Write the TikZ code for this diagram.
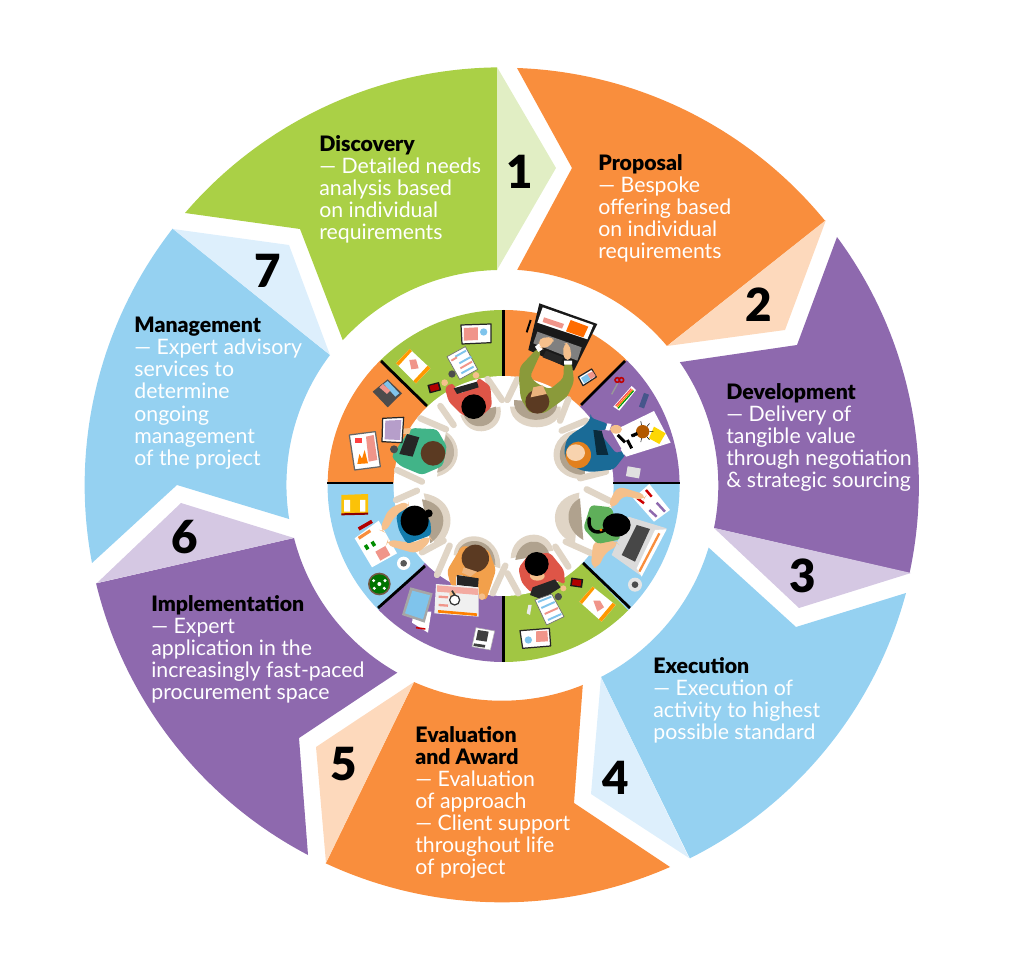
\documentclass[tikz,border=0pt]{standalone}
\usepackage{fontspec}
\setmainfont{Lato}[BoldFont=Lato Black]
\newfontfamily\numfont{Lato Black}
\usetikzlibrary{positioning}

\definecolor{orangemain}{HTML}{F98E3D}
\definecolor{orangelite}{HTML}{FDD9BC}
\definecolor{greenmain}{HTML}{AAD046}
\definecolor{greenlite}{HTML}{E1EEC4}
\definecolor{purplemain}{HTML}{8E69AE}
\definecolor{purplelite}{HTML}{D5C8E3}
\definecolor{bluemain}{HTML}{95D1F1}
\definecolor{bluelite}{HTML}{DDEFFC}
\definecolor{chairrim}{HTML}{E0D5C6}
\definecolor{chairseat}{HTML}{B0A28E}
\definecolor{skintone}{HTML}{F5C08C}
\definecolor{brownhair}{HTML}{5B3A22}
\definecolor{paperpink}{HTML}{F0958A}
\definecolor{paperblue}{HTML}{7FC4EC}
\definecolor{olivecoat}{HTML}{8A9A3A}
\definecolor{redcoat}{HTML}{DE5547}
\definecolor{greencoat}{HTML}{41B488}
\definecolor{tealcoat}{HTML}{127BAC}
\definecolor{orangecoat}{HTML}{F2A04B}
\definecolor{leafcoat}{HTML}{5FAF5A}
\definecolor{navycoat}{HTML}{1A6B97}

\tikzset{
	steptext/.style={anchor=north west,align=left,inner sep=0pt,text=white,
		font=\fontsize{12.1}{12.55}\selectfont},
	stepnum/.style={font=\numfont\fontsize{26}{26}\selectfont,text=black,inner sep=0pt},
	cropview/.style 2 args={shift={(#1,#2)},x=0.006667cm,y=-0.006667cm},
	armrest/.style={chairrim,line width=3.6pt,line cap=round},
	coat/.style={fill=#1,rounded corners=2pt},
	divider/.style={line width=1.6pt,black},
	frame/.style={fill=white,draw=black!85,line width=0.7pt,line join=round},
	stripe/.style={line width=1.1pt}
}
\newcommand{\heading}[1]{{\bfseries\color{black}#1}}

\begin{document}
\begin{tikzpicture}[x=0.02cm,y=-0.02cm]
	\useasboundingbox (0,0) rectangle (1017,955);
	% step segments
	\fill[greenmain] (185,213) arc[start angle=220.63,end angle=269.31,radius=417.5] -- (497,270) arc[start angle=268.67,end angle=222.36,radius=215.5] -- (300,229) -- cycle;
	\fill[greenlite] (497,67) -- (556,168) -- (497,270) -- cycle;
	\fill[orangemain] (517,68) arc[start angle=272.06,end angle=320.72,radius=417.5] -- (667,346) arc[start angle=319.89,end angle=273.99,radius=215.5] -- (572,168) -- cycle;
	\fill[orangelite] (826,220) -- (785,330) -- (667,346) -- cycle;
	\fill[purplemain] (837,237) arc[start angle=323.5,end angle=372.14,radius=417.5] -- (714,528) arc[start angle=371.47,end angle=325.2,radius=215.5] -- (797,345) -- cycle;
	\fill[purplelite] (911,573) -- (799,608) -- (714,528) -- cycle;
	\fill[bluemain] (906,593) arc[start angle=14.97,end angle=63.37,radius=417.5] -- (601,677) arc[start angle=62.73,end angle=16.75,radius=215.5] -- (796,627) -- cycle;
	\fill[bluelite] (689,858) -- (591,794) -- (601,677) -- cycle;
	\fill[orangemain] (670,867) arc[start angle=66.26,end angle=114.97,radius=417.5] -- (414,682) arc[start angle=114.07,end angle=67.95,radius=215.5] -- (574,803) -- cycle;
	\fill[orangelite] (326,863) -- (316,747) -- (414,682) -- cycle;
	\fill[purplemain] (308,855) arc[start angle=117.67,end angle=166.4,radius=417.5] -- (294,538) arc[start angle=165.7,end angle=119.32,radius=215.5] -- (299,738) -- cycle;
	\fill[purplelite] (97,583) -- (181,503) -- (294,538) -- cycle;
	\fill[bluemain] (92,563) arc[start angle=169.23,end angle=217.89,radius=417.5] -- (330,355) arc[start angle=217.08,end angle=170.89,radius=215.5] -- (177,485) -- cycle;
	\fill[bluelite] (173,229) -- (289,245) -- (330,355) -- cycle;
	% step labels
	\node[steptext] (discovery) at (319,135) {\heading{Discovery}\\— Detailed needs\\analysis based\\on individual\\requirements};
	\node[steptext] (proposal) at (598,154) {\heading{Proposal}\\— Bespoke\\offering based\\on individual\\requirements};
	\node[steptext] (development) at (726,383) {\heading{Development}\\— Delivery of\\tangible value\\through negotiation\\\& strategic sourcing};
	\node[steptext] (execution) at (653,657) {\heading{Execution}\\— Execution of\\activity to highest\\possible standard};
	\node[steptext] (evaluation) at (415,726) {\heading{Evaluation}\\\heading{and Award}\\— Evaluation\\of approach\\— Client support\\throughout life\\of project};
	\node[steptext] (implementation) at (151,595) {\heading{Implementation}\\— Expert\\application in the\\increasingly fast-paced\\procurement space};
	\node[steptext] (management) at (134,317) {\heading{Management}\\— Expert advisory\\services to\\determine\\ongoing\\management\\of the project};
	\node[stepnum] (num1) at (520,172) {1};
	\node[stepnum] (num2) at (759,305) {2};
	\node[stepnum] (num3) at (803,576) {3};
	\node[stepnum] (num4) at (616,778) {4};
	\node[stepnum] (num5) at (344,764) {5};
	\node[stepnum] (num6) at (185,537) {6};
	\node[stepnum] (num7) at (268,271) {7};
	% table top
	\begin{scope}
		\clip (503.6,486) circle [radius=176];
		\fill[orangemain] (503.6,483) -- (503.6,250) -- (740,247) -- cycle;
		\fill[purplemain] (503.6,483) -- (740,247) -- (740,483) -- cycle;
		\fill[bluemain] (503.6,483) -- (740,483) -- (740,725) -- cycle;
		\fill[greenmain!95!black] (503.6,483) -- (740,725) -- (503.6,725) -- cycle;
		\fill[purplemain] (503.6,483) -- (503.6,725) -- (265,725) -- cycle;
		\fill[bluemain] (503.6,483) -- (265,725) -- (265,483) -- cycle;
		\fill[orangemain] (503.6,483) -- (265,483) -- (265,247) -- cycle;
		\fill[greenmain!95!black] (503.6,483) -- (265,247) -- (503.6,250) -- cycle;
	\end{scope}
	\fill[white] (503.6,486) circle [radius=110];
	\draw[divider] (503.6,310) -- (503.6,376);
	\draw[divider] (503.6,596) -- (503.6,662);
	\draw[divider] (327,483) -- (393,483);
	\draw[divider] (613,483) -- (680,483);
	\draw[divider] (625,361) -- (581,405);
	\draw[divider] (381,361) -- (427,406);
	\draw[divider] (378,608) -- (425,566);
	\draw[divider] (630,608) -- (583,563);
	% upper right quarter
	\begin{scope}[cropview={500}{300}]
		\draw[black,line width=1.1pt] (92,60) -- (80,97);
		\filldraw[frame] (262,235) ++(-27,-4) -- ++(40,-24) -- ++(14,24) -- ++(-40,26) -- cycle;
		\fill[paperblue] (243,234) -- (262,222) -- (272,238) -- (253,250) -- cycle;
		\fill[paperpink] (262,222) -- (278,214) -- (287,228) -- (272,238) -- cycle;
		% laptop
		\fill[black!90] (118,10) -- (292,72) -- (222,212) -- (85,150) -- cycle;
		\fill[white] (128,22) -- (280,75) -- (262,118) -- (112,68) -- cycle;
		\fill[paperpink] (132,52) -- (192,72) -- (186,86) -- (128,66) -- cycle;
		\fill[orange!85!red] (212,60) -- (265,80) -- (250,112) -- (198,94) -- cycle;
		\fill[black!50] (112,95) -- (245,142) -- (232,182) -- (100,130) -- cycle;
		\fill[black!85] (138,152) -- (190,172) -- (180,192) -- (128,172) -- cycle;
		% man at the laptop
		\fill[chairrim] (30,320) .. controls (35,405) and (190,400) .. (182,320) -- cycle;
		\fill[chairseat] (42,300) .. controls (35,375) and (170,380) .. (172,310) -- cycle;
		\draw[armrest] (22,300) -- (52,238);
		\draw[armrest] (180,362) -- (205,298);
		\fill[coat=olivecoat] (112,145) -- (60,200) -- (57,240) -- (62,295) -- (88,338) -- (132,340) -- (172,312) -- (202,290) -- (222,245) -- (216,190) -- (192,190) -- (190,235) -- (150,268) -- (110,250) -- (90,230) -- (124,155) -- cycle;
		\fill[white] (105,140) -- (118,130) -- (128,148) -- (115,156) -- cycle (192,182) -- (216,182) -- (216,194) -- (192,194) -- cycle;
		\fill[skintone,rounded corners=3pt] (115,115) -- (162,110) -- (160,130) -- (130,148) -- (118,140) -- cycle;
		\fill[skintone,rounded corners=3pt] (190,130) -- (208,128) -- (216,180) -- (190,180) -- cycle;
		\fill[brownhair] (112,305) circle [radius=36];
		\fill[skintone!80!brown] (100,262) -- (128,256) -- (140,282) -- (92,292) -- cycle;
		% purple things
		\draw[red!75!black,line width=0.9pt] (352,240) circle [radius=7] (364,240) circle [radius=7];
		\draw[black!40,line width=0.8pt] (353,250) -- (335,283);
		\fill[white] (340,320) -- (395,258) -- (408,270) -- (358,332) -- cycle;
		\draw[red!70,line width=0.7pt] (347,318) -- (394,266);
		\draw[orange,line width=0.7pt] (351,321) -- (398,269);
		\draw[green!60!black,line width=0.7pt] (354,325) -- (401,272);
		\fill[tealcoat!70!purple,shift={(432,302)},rotate=70] (-22,-8) rectangle (22,8);
		\fill[white] (335,395) -- (462,333) -- (512,428) -- (378,470) -- cycle;
		\fill[yellow!75!orange] (462,380) -- (497,400) -- (478,432) -- (447,415) -- cycle;
		\draw[black,line width=1.7pt] (353,405) -- (375,427) (382,420) -- (395,445);
		\draw[black,line width=0.3pt] (428,395) ++(0:20) -- ++(0:12) (428,395) ++(50:20) -- ++(50:12) (428,395) ++(100:20) -- ++(100:12) (428,395) ++(-50:20) -- ++(-50:12) (428,395) ++(-100:20) -- ++(-100:12) (428,395) ++(150:20) -- ++(150:12);
		\fill[orange!70!black] (428,395) circle [radius=20];
		\draw[black,line width=1.7pt] (394,408) -- (412,400);
		\fill[black!12,shift={(400,517)},rotate=-10] (-20,-15) rectangle (20,15);
		% man in the blue jacket
		\fill[chairrim] (240,390) .. controls (140,390) and (125,535) .. (250,538) -- cycle;
		\fill[chairseat] (250,400) .. controls (160,405) and (150,525) .. (255,525) -- cycle;
		\draw[armrest] (185,392) -- (258,362);
		\draw[armrest] (240,535) -- (318,515);
		\fill[coat=navycoat] (272,353) -- (325,372) -- (316,392) -- (290,388) -- (350,462) -- (365,450) -- (378,462) -- (342,508) -- (285,515) .. controls (225,515) and (190,480) .. (195,440) .. controls (205,395) and (250,390) .. (272,353) -- cycle;
		\fill[black!60!navycoat] (280,390) -- (305,392) -- (325,465) -- (290,465) -- cycle;
		\fill[white] (322,370) -- (335,372) -- (328,392) -- (316,390) -- cycle (362,448) -- (378,440) -- (384,455) -- (372,465) -- cycle;
		\fill[skintone] (348,388) ellipse [x radius=18,y radius=13];
		\fill[orange!55!brown] (235,465) ellipse [x radius=38,y radius=40];
		\fill[skintone!70!white] (227,458) ellipse [x radius=28,y radius=25];
	\end{scope}
	% lower right quarter
	\begin{scope}[cropview={500}{480}]
		\fill[white] (448,12) -- (510,90) -- (462,125) -- (400,55) -- cycle;
		\draw[red!80!black,line width=1.4pt] (438,30) -- (455,50) (412,55) -- (432,70);
		\draw[purplemain,line width=1.4pt] (470,68) -- (495,95) (448,90) -- (470,110);
		\fill[black!14] (385,110) -- (500,145) -- (420,285) -- (335,225) -- cycle;
		\fill[black!72] (410,135) -- (450,147) -- (405,245) -- (365,225) -- cycle;
		\fill[white] (465,150) -- (500,148) -- (425,290) -- (410,265) -- cycle;
		\draw[orangemain,line width=1.3pt] (478,160) -- (418,275);
		\fill[black!10] (405,314) circle [radius=21];
		\fill[black!70] (405,314) circle [radius=10];
		% woman at the laptop
		\fill[chairrim] (238,38) .. controls (140,55) and (145,165) .. (225,190) -- cycle;
		\fill[chairseat] (240,55) .. controls (190,80) and (195,150) .. (250,180) -- cycle;
		\draw[armrest] (260,28) -- (328,62);
		\draw[armrest] (197,185) -- (275,220);
		\fill[skintone,rounded corners=4pt] (322,78) -- (352,18) -- (440,45) -- (430,62) -- (368,45) -- (345,85) -- cycle;
		\fill[skintone,rounded corners=4pt] (280,182) -- (272,262) -- (295,265) -- (315,218) -- (358,195) -- (345,180) -- cycle;
		\fill[coat=leafcoat] (272,75) -- (335,82) -- (362,178) -- (292,192) -- (250,145) -- cycle;
		\fill[black] (350,135) ellipse [x radius=42,y radius=35];
		\draw[black,line width=2pt,line cap=round] (268,115) .. controls (262,150) and (285,165) .. (315,150);
		\fill[orange] (303,150) circle [radius=5];
		% man with the tablet
		\fill[chairrim] (32,235) .. controls (35,150) and (145,140) .. (160,212) -- cycle;
		\fill[chairseat] (46,240) .. controls (55,175) and (130,165) .. (148,222) -- cycle;
		\draw[armrest] (22,280) -- (55,340);
		\draw[armrest] (166,200) -- (205,260);
		\fill[coat=redcoat] (85,225) -- (150,218) -- (192,270) -- (195,315) -- (170,300) -- (110,330) -- (95,340) -- (65,308) -- (55,265) -- cycle;
		\fill[black!85] (98,322) -- (165,298) -- (182,322) -- (125,358) -- (90,345) -- cycle;
		\fill[skintone] (112,288) ellipse [x radius=22,y radius=14];
		\fill[skintone] (190,325) circle [radius=9];
		\fill[black] (110,252) circle [radius=36];
		\fill[black!8] (85,375) -- (95,375) -- (90,405) -- (80,400) -- cycle;
		\filldraw[fill=white,draw=black!55,line width=0.4pt] (105,360) -- (155,342) -- (192,410) -- (140,435) -- cycle;
		\draw[stripe,paperblue] (114,366) -- (154,350) (124,384) -- (164,366) (144,420) -- (184,402);
		\draw[stripe,paperpink] (134,402) -- (174,384);
		\fill[black!70] (175,350) circle [radius=11];
		\fill[black!90,shift={(230,308)},rotate=-8] (-18,-13) rectangle (18,13);
		\fill[red!70!black,shift={(230,308)},rotate=-8] (-13,-9) rectangle (13,9);
		\fill[white] (238,365) -- (278,320) -- (347,375) -- (305,425) -- cycle;
		\fill[orange!80!yellow] (238,365) -- (278,320) -- (284,326) -- (246,372) -- cycle (347,375) -- (305,425) -- (296,418) -- (338,368) -- cycle;
		\fill[paperpink] (280,362) -- (300,362) -- (312,382) -- (292,395) -- cycle;
		\filldraw[frame] (60,452) -- (148,445) -- (152,498) -- (68,505) -- cycle;
		\fill[paperpink] (108,454) -- (142,452) -- (144,484) -- (108,486) -- cycle;
		\fill[paperblue] (85,480) circle [radius=11];
	\end{scope}
	% upper left quarter
	\begin{scope}[cropview={322}{300}]
		\filldraw[frame] (417,75) -- (507,72) -- (507,128) -- (420,132) -- cycle;
		\fill[paperpink] (426,84) -- (468,82) -- (468,120) -- (426,122) -- cycle;
		\fill[paperblue] (485,96) circle [radius=11];
		\fill[white] (222,190) -- (263,147) -- (325,205) -- (282,250) -- cycle;
		\fill[orange!80!yellow] (222,190) -- (263,147) -- (270,153) -- (230,197) -- cycle (325,205) -- (282,250) -- (274,243) -- (317,197) -- cycle;
		\fill[paperpink] (262,180) -- (282,178) -- (290,205) -- (268,208) -- cycle;
		\fill[black!90,shift={(337,263)},rotate=15] (-18,-13) rectangle (18,13);
		\fill[red!70!black,shift={(337,263)},rotate=15] (-13,-9) rectangle (13,9);
		\filldraw[fill=white,draw=black!55,line width=0.4pt] (375,170) -- (430,140) -- (467,208) -- (413,238) -- cycle;
		\draw[stripe,paperblue] (400,170) -- (432,152) (412,190) -- (448,170) (418,220) -- (455,200);
		\draw[stripe,paperpink] (388,182) -- (405,172) (415,205) -- (450,185);
		\fill[black!70] (390,222) circle [radius=11];
		% woman with the tablet
		\fill[chairrim] (415,345) .. controls (440,425) and (550,400) .. (535,320) -- cycle;
		\fill[chairseat] (425,345) .. controls (445,400) and (530,385) .. (522,320) -- cycle;
		\draw[armrest] (355,318) -- (395,375);
		\draw[armrest] (497,237) -- (540,300);
		\fill[coat=redcoat] (368,262) -- (392,248) -- (410,282) -- (460,262) -- (468,232) -- (505,258) -- (510,320) -- (470,355) -- (420,345) -- (380,305) -- cycle;
		\fill[black!85] (395,265) -- (465,245) -- (470,262) -- (405,282) -- cycle;
		\fill[black] (455,320) circle [radius=37];
		\fill[skintone] (368,248) circle [radius=10] (462,226) circle [radius=10];
		% man at the small tablet
		\fill[chairrim] (372,395) .. controls (425,430) and (420,510) .. (345,530) -- cycle;
		\fill[chairseat!70!chairrim] (372,405) .. controls (410,440) and (405,500) .. (345,518) -- cycle;
		\draw[armrest] (295,355) -- (372,388);
		\draw[armrest] (225,510) -- (300,545);
		\fill[coat=greencoat] (268,384) -- (345,388) -- (375,440) -- (362,498) -- (300,525) -- (235,498) -- (208,470) -- (235,430) -- cycle;
		\fill[black!85] (255,402) -- (292,412) -- (272,470) -- (232,462) -- cycle;
		\fill[brownhair] (333,460) circle [radius=37];
		\fill[skintone] (240,386) -- (268,384) -- (262,402) -- (242,402) -- cycle;
		\fill[black!70] (216,448) circle [radius=12];
		\filldraw[frame] (182,355) -- (245,352) -- (240,428) -- (180,425) -- cycle;
		\fill[purplemain!65!white] (190,362) -- (238,360) -- (234,420) -- (188,418) -- cycle;
		\fill[black!70] (152,275) -- (197,238) -- (240,280) -- (197,322) -- cycle;
		\fill[paperblue] (185,252) -- (197,243) -- (232,280) -- (220,290) -- cycle;
		\fill[paperpink] (183,252) -- (205,272) -- (195,282) -- (172,262) -- cycle;
		\filldraw[frame,draw=black!60] (82,405) -- (160,395) -- (175,500) -- (98,510) -- cycle;
		\fill[paperpink] (132,410) -- (155,405) -- (166,480) -- (140,485) -- cycle;
		\fill[orange] (106,492) -- (112,462) -- (120,476) -- (128,450) -- (138,490) -- cycle;
		\fill[red!75] (98,415) rectangle (120,430);
	\end{scope}
	% lower left quarter
	\begin{scope}[cropview={322}{480}]
		\fill[yellow!55!orange] (58,45) -- (138,42) -- (138,100) -- (58,105) -- cycle;
		\fill[red!55!black] (58,100) -- (138,98) -- (138,104) -- (58,106) -- cycle;
		\fill[white] (66,60) rectangle (84,95) (114,60) rectangle (130,95);
		\draw[red!70!black,line width=2pt] (110,147) -- (150,124);
		\fill[white] (98,175) -- (170,122) -- (225,220) -- (150,262) -- cycle;
		\fill[paperpink] (160,215) -- (190,198) -- (205,225) -- (175,242) -- cycle;
		\draw[green!55!black,line width=2pt] (130,195) -- (138,208) (150,185) -- (158,198);
		\draw[orangemain,line width=1.8pt] (110,175) -- (145,152);
		\fill[white] (245,250) circle [radius=20];
		\fill[black!65] (245,250) circle [radius=10];
		\fill[brownhair!85!white] (172,312) circle [radius=34];
		\fill[green!45!black] (172,312) circle [radius=29];
		\fill[white] (172,312) circle [radius=6] (155,302) circle [radius=5] (189,302) circle [radius=5] (157,325) circle [radius=5] (187,325) circle [radius=5];
		% woman with the report
		\fill[chairrim] (305,40) .. controls (400,55) and (410,150) .. (340,205) -- cycle;
		\fill[chairseat] (300,58) .. controls (375,70) and (385,145) .. (325,190) -- cycle;
		\draw[armrest] (222,60) -- (285,32);
		\draw[armrest] (300,217) -- (365,182);
		\fill[skintone,rounded corners=4pt] (258,62) -- (200,85) -- (172,150) -- (190,158) -- (220,105) -- (262,85) -- cycle;
		\fill[skintone,rounded corners=4pt] (320,165) -- (330,180) -- (285,222) -- (192,195) -- (198,178) -- (275,190) -- cycle;
		\fill[coat=tealcoat] (222,105) -- (270,75) -- (325,120) -- (328,165) -- (255,192) -- (230,150) -- cycle;
		\fill[black] (278,122) ellipse [x radius=42,y radius=45];
		\fill[black] (320,100) circle [radius=12];
		% man with the magnifier
		\fill[chairrim] (395,225) .. controls (400,140) and (540,150) .. (535,265) -- cycle;
		\fill[chairseat] (408,215) .. controls (425,165) and (520,170) .. (520,255) -- cycle;
		\draw[armrest] (345,285) -- (383,197);
		\draw[armrest] (512,340) -- (550,257);
		\fill[coat=orangecoat] (375,272) -- (420,197) -- (500,210) -- (522,270) -- (492,362) -- (468,345) -- (468,298) -- (402,282) -- (402,340) -- (385,312) -- cycle;
		\fill[black!85] (405,285) -- (470,295) -- (468,322) -- (405,315) -- cycle;
		\fill[brownhair] (460,235) circle [radius=41];
		\fill[skintone!85!brown] (425,262) -- (465,275) -- (445,290) -- (420,278) -- cycle;
		\fill[black!6] (342,312) -- (470,322) -- (470,410) -- (337,400) -- cycle;
		\fill[paperpink!80!white] (345,316) -- (468,326) -- (468,345) -- (345,335) -- cycle;
		\draw[orange,line width=1.5pt] (348,394) -- (465,404);
		\draw[paperpink,line width=1.3pt] (350,350) -- (378,352) (350,375) -- (378,377);
		\fill[skintone] (392,342) circle [radius=10] (480,350) circle [radius=10];
		\filldraw[fill=white,draw=black!80,line width=0.7pt] (398,360) circle [radius=15];
		\draw[black!80,line width=1pt] (398,345) -- (390,332);
		\fill[white] (275,395) -- (328,395) -- (318,458) -- (270,428) -- cycle;
		\draw[red!80!black,line width=0.9pt] (282,443) -- (310,447);
		\fill[black!35] (265,322) -- (332,340) -- (308,428) -- (240,405) -- cycle;
		\fill[paperblue] (271,332) -- (324,346) -- (303,418) -- (249,400) -- cycle;
		\fill[white,draw=black!30,line width=0.3pt] (462,443) -- (518,453) -- (505,510) -- (450,500) -- cycle;
		\fill[black!75] (468,450) -- (500,455) -- (494,485) -- (462,480) -- cycle (456,490) -- (490,495) -- (488,503) -- (454,498) -- cycle;
	\end{scope}
\end{tikzpicture}
\end{document}
